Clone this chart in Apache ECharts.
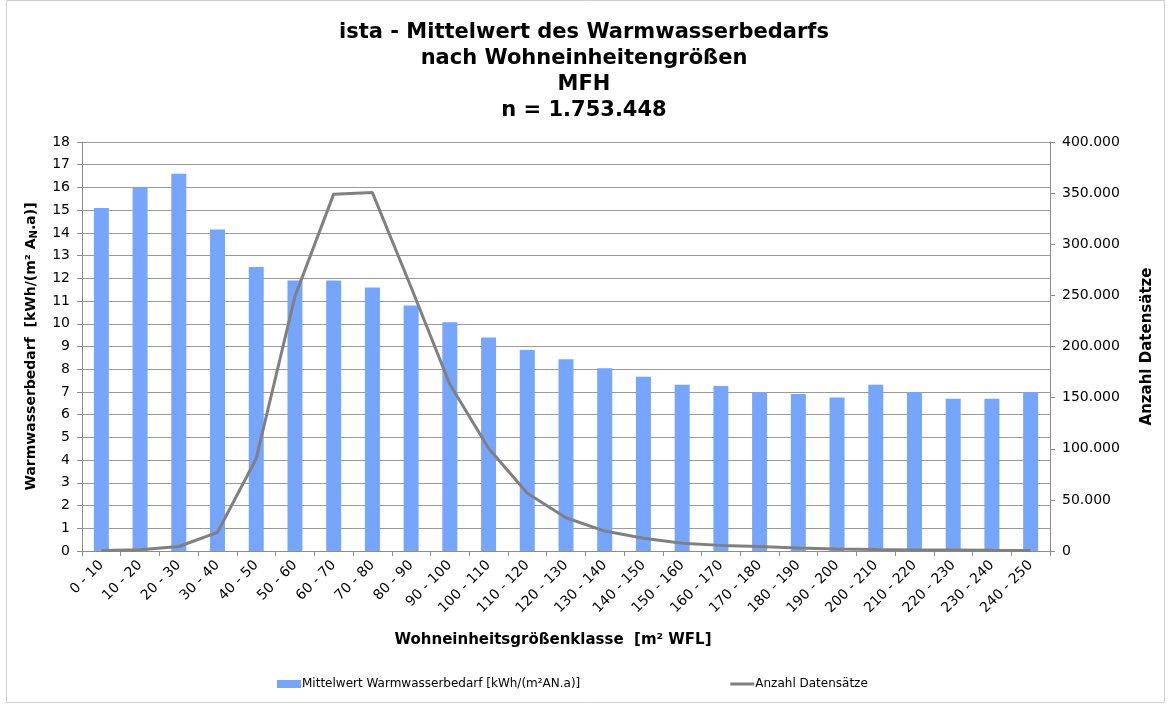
<!DOCTYPE html>
<html>
<head>
<meta charset="utf-8">
<script src="https://cdn.jsdelivr.net/npm/echarts@6/dist/echarts.min.js"></script>
<style>
  html, body { margin: 0; padding: 0; background: #fff; }
  #chart { width: 1168px; height: 704px; }
</style>
</head>
<body>
<div id="chart"></div>
<script>
  // Wohneinheitsgrößenklassen [m² WFL]
  const categories = [
    '0 - 10', '10 - 20', '20 - 30', '30 - 40', '40 - 50', '50 - 60', '60 - 70',
    '70 - 80', '80 - 90', '90 - 100', '100 - 110', '110 - 120', '120 - 130',
    '130 - 140', '140 - 150', '150 - 160', '160 - 170', '170 - 180', '180 - 190',
    '190 - 200', '200 - 210', '210 - 220', '220 - 230', '230 - 240', '240 - 250',
  ];

  // Mittelwert Warmwasserbedarf [kWh/(m²AN.a)]
  const mittelwert = [
    15.1, 16.0, 16.6, 14.15, 12.5, 11.9, 11.9, 11.6, 10.8, 10.07, 9.4, 8.85, 8.44,
    8.04, 7.67, 7.32, 7.26, 6.98, 6.91, 6.76, 7.32, 6.99, 6.7, 6.7, 6.99,
  ];

  // Anzahl Datensätze
  const anzahl = [
    500, 1200, 4400, 18300, 90500, 249000, 349000, 350500, 258000, 163000, 100500,
    56500, 32500, 19500, 12500, 7500, 5500, 4300, 3000, 2000, 1500, 1100, 900, 700, 600,
  ];

  const leftTicks = { min: 0, max: 18, interval: 1 };
  const rightTicks = { min: 0, max: 400000, interval: 50000 };

  const fontFamily = "'DejaVu Sans', sans-serif";
  const axisGrey = '#8c8c8c';

  const chart = echarts.init(document.getElementById('chart'));

  const fmtThousands = (v) => String(v).replace(/\B(?=(\d{3})+(?!\d))/g, '.');

  chart.setOption({
    animation: false,
    textStyle: { fontFamily },
    title: {
      text: 'ista - Mittelwert des Warmwasserbedarfs\nnach Wohneinheitengrößen\nMFH\nn = 1.753.448',
      left: 'center',
      top: 15,
      textStyle: {
        fontFamily,
        fontSize: 21,
        fontWeight: 'bold',
        color: '#000',
        lineHeight: 26,
      },
    },
    graphic: [
      {
        type: 'rect',
        shape: { x: 6.5, y: 0.5, width: 1158, height: 702 },
        style: { fill: 'none', stroke: '#d0d0d0', lineWidth: 1 },
        silent: true,
      },
    ],
    legend: {
      bottom: 9,
      left: 272,
      itemGap: 150,
      itemWidth: 24,
      itemHeight: 8,
      textStyle: { fontFamily, fontSize: 12, color: '#000', padding: [0, 0, 0, -4] },
      data: [
        { name: 'Mittelwert Warmwasserbedarf [kWh/(m²AN.a)]', icon: 'rect' },
        { name: 'Anzahl Datensätze', icon: 'path://M0,4 L24,4 L24,7 L0,7 Z' },
      ],
    },
    grid: {
      left: 82,
      right: 118,
      top: 142,
      bottom: 153,
    },
    xAxis: {
      type: 'category',
      data: categories,
      name: 'Wohneinheitsgrößenklasse  [m² WFL]',
      nameLocation: 'middle',
      nameGap: 82,
      nameTextStyle: {
        fontFamily, fontSize: 15, fontWeight: 'bold', color: '#000', padding: [0, 26, 0, 0],
      },
      axisLine: { lineStyle: { color: axisGrey, width: 1 } },
      axisTick: { show: true, length: 5, lineStyle: { color: axisGrey } },
      axisLabel: {
        rotate: 45,
        interval: 0,
        fontSize: 14,
        color: '#000',
        margin: 12,
      },
      splitLine: { show: false },
    },
    yAxis: [
      {
        type: 'value',
        ...leftTicks,
        name: '{a|Warmwasserbedarf  [kWh/(m² A}{s|N}{a|.a)]}',
        nameLocation: 'middle',
        nameRotate: 90,
        nameGap: 43,
        nameTextStyle: {
          rich: {
            a: { fontFamily, fontSize: 14, fontWeight: 'bold', color: '#000' },
            s: { fontFamily, fontSize: 10, fontWeight: 'bold', color: '#000', padding: [6, 0, 0, 0] },
          },
        },
        axisLine: { show: true, lineStyle: { color: axisGrey, width: 1 } },
        axisTick: { show: true, length: 5, lineStyle: { color: axisGrey } },
        axisLabel: { fontSize: 14, color: '#000', margin: 12 },
        splitLine: { show: true, lineStyle: { color: '#9a9a9a', width: 1 } },
      },
      {
        type: 'value',
        ...rightTicks,
        position: 'right',
        name: 'Anzahl Datensätze',
        nameLocation: 'middle',
        nameRotate: 90,
        nameGap: 90,
        nameTextStyle: { fontFamily, fontSize: 15, fontWeight: 'bold', color: '#000' },
        axisLine: { show: true, lineStyle: { color: axisGrey, width: 1 } },
        axisTick: { show: true, length: 5, lineStyle: { color: axisGrey } },
        axisLabel: { fontSize: 14, color: '#000', margin: 12, formatter: fmtThousands },
        splitLine: { show: false },
      },
    ],
    series: [
      {
        name: 'Mittelwert Warmwasserbedarf [kWh/(m²AN.a)]',
        type: 'bar',
        yAxisIndex: 0,
        data: mittelwert,
        barWidth: 15,
        itemStyle: { color: '#76a5fd' },
      },
      {
        name: 'Anzahl Datensätze',
        type: 'line',
        yAxisIndex: 1,
        data: anzahl,
        symbol: 'none',
        lineStyle: { color: '#808080', width: 3 },
        itemStyle: { color: '#808080' },
        z: 3,
      },
    ],
  });
</script>
</body>
</html>
